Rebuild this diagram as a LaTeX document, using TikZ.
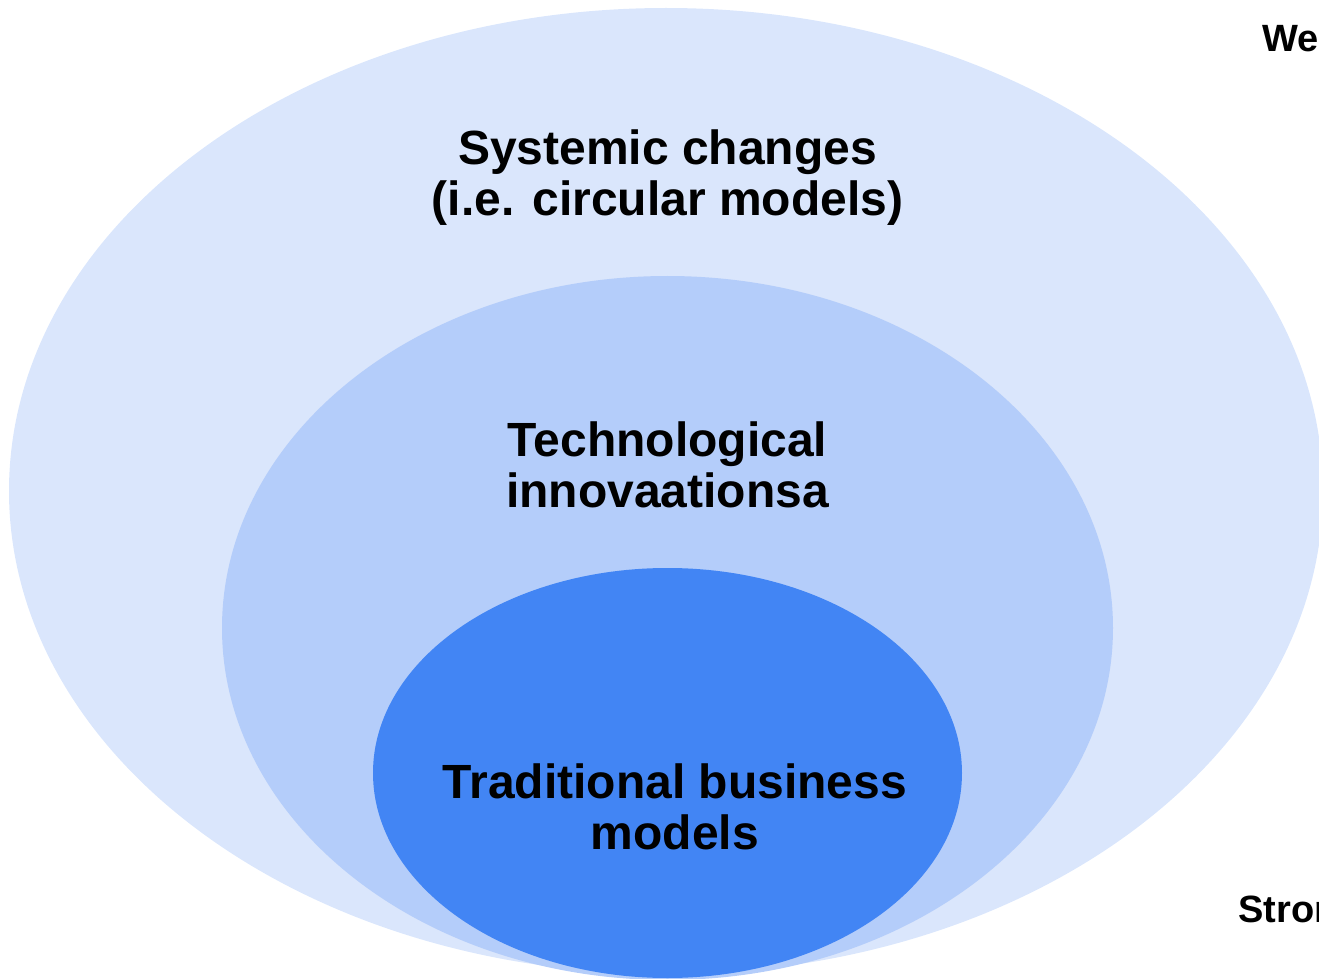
\documentclass[tikz,border=0pt]{standalone}
\usepackage{fontspec}
\setmainfont{Liberation Sans}
\usepackage{tikz}
\usetikzlibrary{shapes.geometric, positioning}
\definecolor{paleblue}{HTML}{DAE6FC}
\definecolor{midblue}{HTML}{B4CDFA}
\definecolor{deepblue}{HTML}{4285F4}
\tikzset{
    ring/.style={ellipse,inner sep=0pt,draw=none},
    label/.style={align=center,inner sep=0pt,font=\bfseries\fontsize{24}{25.5}\selectfont},
    side/.style={anchor=base west,inner sep=0pt,font=\bfseries\fontsize{19}{21}\selectfont}}

\begin{document}
\begin{tikzpicture}[x=0.5pt,y=-0.5pt]
\useasboundingbox (0,0) rectangle (1319,979);
\clip (0,0) rectangle (1319,979);
% the three nested levels
\node[ring,fill=paleblue,minimum width=657pt,minimum height=483pt] (outer) at (666,491) {};
\node[ring,fill=midblue,minimum width=445.5pt,minimum height=352pt] (middle) at (667.5,628) {};
\node[ring,fill=deepblue,minimum width=294.5pt,minimum height=205pt] (inner) at (667.5,773) {};
% level names
\node[label] (systemic) at (667.5,178) {Systemic changes\\(i.e. circular models)};
\node[label] (tech) at (667.5,465) {Technological\\innovaationsa};
\node[label] (trad) at (675,807) {Traditional business\\models};
% scale ends, cut by the right border
\node[side] (weak) at (1262,52) {Weak};
\node[side] (strong) at (1238,922) {Strong};
\end{tikzpicture}
\end{document}
